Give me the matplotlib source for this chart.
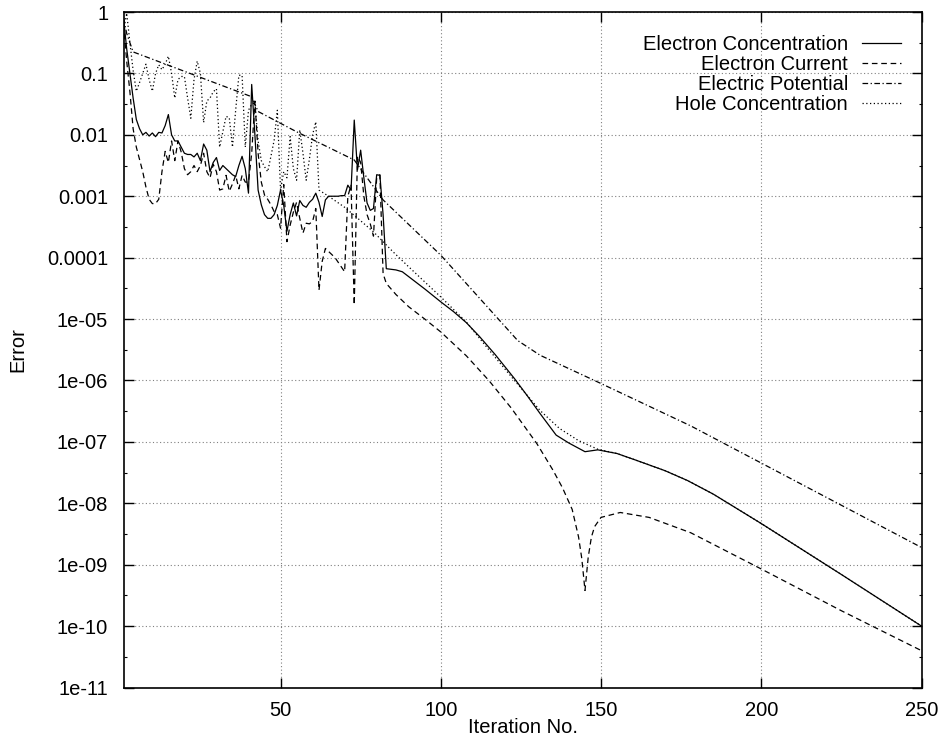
import numpy as np
import matplotlib
matplotlib.use("Agg")
import matplotlib.pyplot as plt
from matplotlib.ticker import FixedLocator, FuncFormatter, LogLocator, NullFormatter

plt.rcParams['font.family'] = ['Liberation Sans', 'DejaVu Sans']
plt.rcParams['font.size'] = 14.5

# ---- data (log10 of error) ----
conc_x = [1, 2, 3, 4, 5, 6, 7, 8, 9, 10, 11, 12, 13, 14, 15, 16, 17, 18, 19, 20,
          21, 22, 23, 24, 25, 26, 27, 28, 29, 30, 31, 32, 33, 34, 35, 36, 37, 38, 39, 40,
          41, 42, 43, 44, 45, 46, 47, 48, 49, 50, 51, 52, 53, 54, 55, 56, 57, 58, 59, 60,
          61, 62, 63, 64, 65, 66, 67, 68, 69, 70, 71, 72, 73, 74, 75, 76, 77, 78, 79, 80,
          81, 82, 83, 86, 88, 90, 95, 100, 104, 108, 112, 117, 123, 127, 131, 136, 140,
          145, 149, 155, 161, 170, 177, 185, 200, 225, 250]
conc_log = [-0.1, -0.6, -1.0, -1.4, -1.75, -1.9, -2.0, -1.96, -2.02, -1.97, -2.03, -1.96,
            -1.97, -1.85, -1.67, -2.0, -2.1, -2.1, -2.2, -2.3,
            -2.32, -2.32, -2.36, -2.3, -2.42, -2.15, -2.25, -2.6, -2.45, -2.37, -2.58, -2.5,
            -2.55, -2.6, -2.65, -2.68, -2.5, -2.35, -2.55, -2.95,
            -1.18, -2.0, -2.9, -3.14, -3.3, -3.36, -3.36, -3.3, -3.15, -2.9, -3.15, -3.57,
            -3.3, -3.11, -3.32, -3.07, -3.15, -3.18, -3.1, -3.05,
            -2.95, -3.1, -3.33, -3.06, -3.0, -3.0, -3.0, -3.0, -2.99, -2.99, -2.82, -2.9,
            -1.76, -2.57, -2.25, -2.7, -3.11, -3.23, -3.2, -2.65,
            -2.66, -3.3, -4.18, -4.2, -4.23, -4.31, -4.51, -4.72, -4.88, -5.06, -5.28,
            -5.58, -5.97, -6.25, -6.54, -6.89, -7.02,
            -7.16, -7.13, -7.19, -7.3, -7.47, -7.63, -7.85, -8.33, -9.16, -10.0]

curr_x = [1, 2, 3, 4, 5, 6, 7, 8, 9, 10, 11, 12, 13, 14, 15, 16, 17, 18, 19, 20,
          21, 22, 23, 24, 25, 26, 27, 28, 29, 30, 31, 32, 33, 34, 35, 36, 37, 38, 39, 40,
          41, 42, 43, 44, 45, 46, 47, 48, 49, 50, 51, 52, 53, 54, 55, 56, 57, 58, 59, 60,
          61, 62, 63, 64, 65, 67, 70, 71, 72, 73, 74, 75, 76, 77, 78, 79, 80, 81, 82, 83,
          86, 90, 95, 100, 108, 115, 122, 130, 135, 138, 141, 143, 144, 145, 146, 147,
          148, 150, 156, 165, 178, 200, 225, 250]
curr_log = [-0.2, -0.8, -1.3, -1.9, -2.2, -2.4, -2.6, -2.85, -3.05, -3.12, -3.12, -3.05,
            -2.6, -2.27, -2.45, -2.1, -2.42, -2.1, -2.28, -2.55,
            -2.65, -2.6, -2.5, -2.6, -2.5, -2.3, -2.6, -2.7, -2.48, -2.6, -2.9, -2.88,
            -2.66, -2.92, -2.8, -2.66, -2.88, -2.66, -2.77, -2.77,
            -2.3, -1.45, -2.3, -2.77, -2.98, -3.05, -3.14, -3.25, -3.3, -3.52, -2.81, -3.74,
            -3.47, -3.26, -3.1, -3.36, -3.6, -3.44, -3.45, -3.41,
            -3.2, -4.53, -4.06, -3.85, -3.9, -4.0, -4.23, -3.0, -2.82, -4.77, -2.35, -2.45,
            -3.0, -3.3, -3.45, -3.65, -2.7, -2.65, -4.26, -4.42,
            -4.6, -4.8, -5.0, -5.21, -5.6, -6.0, -6.45, -7.03, -7.46, -7.75, -8.1, -8.55,
            -8.9, -9.42, -8.88, -8.55,
            -8.38, -8.23, -8.15, -8.23, -8.48, -9.07, -9.75, -10.4]

pot_x = [1, 2, 4, 41, 43, 55, 73, 82, 100, 124, 131, 150, 178, 250]
pot_log = [-0.1, -0.35, -0.65, -1.38, -1.62, -1.95, -2.41, -3.06, -3.96, -5.35,
           -5.59, -6.05, -6.74, -8.72]

hole_x = [1, 2, 3, 4, 5, 6, 7, 8, 9, 10, 11, 12, 13, 14, 15, 16, 17, 18, 19, 20,
          21, 22, 23, 24, 25, 26, 27, 28, 29, 30, 31, 32, 33, 34, 35, 36, 37, 38, 39, 40,
          41, 42, 43, 44, 45, 46, 47, 48, 49, 50, 51, 52, 53, 54, 55, 56, 57, 58, 59, 60,
          61, 62, 65, 70, 75, 79, 85, 90, 100, 108, 115, 123, 131, 137, 143, 149,
          155, 161, 170, 177, 185, 200, 225, 250]
hole_log = [-0.3, -0.02, -0.5, -0.95, -1.29, -1.15, -1.0, -0.85, -1.1, -1.29, -1.0, -0.86,
            -0.94, -0.85, -0.72, -1.0, -1.4, -1.1, -1.05, -1.05,
            -1.4, -1.73, -1.1, -0.8, -1.0, -1.8, -1.45, -1.4, -1.3, -1.25, -2.2, -1.95,
            -1.7, -1.72, -2.2, -1.6, -1.03, -1.03, -2.2, -1.6,
            -1.5, -1.48, -2.1, -2.42, -2.52, -2.6, -2.35, -2.09, -1.6, -2.9, -2.6, -2.7,
            -2.03, -2.55, -2.74, -1.92, -2.3, -2.74, -2.4, -2.0,
            -1.79, -2.9, -3.0, -3.18, -3.4, -3.58, -3.9, -4.15, -4.64, -5.05, -5.5, -6.0,
            -6.49, -6.78, -6.98, -7.12,
            -7.19, -7.3, -7.47, -7.63, -7.85, -8.33, -9.16, -10.0]

labels = ["Electron Concentration", "Electron Current", "Electric Potential",
          "Hole Concentration"]
x_ticks = [50, 100, 150, 200, 250]
y_decades = list(range(-11, 1))

# ---- figure ----
fig = plt.figure(figsize=(9.43, 7.44), dpi=100)
W, H = 943, 744
L, R, T, B = 123.5, 921.5, 12, 687.5
ax = fig.add_axes([L / W, 1 - B / H, (R - L) / W, (B - T) / H])

lw = 0.9
ax.plot(conc_x, 10.0 ** np.array(conc_log), color='black', lw=lw, ls='-', label=labels[0])
ax.plot(curr_x, 10.0 ** np.array(curr_log), color='black', lw=lw, ls=(0, (4.5, 3)),
        label=labels[1])
ax.plot(pot_x, 10.0 ** np.array(pot_log), color='black', lw=lw,
        ls=(0, (4.5, 2, 1, 2)), label=labels[2])
ax.plot(hole_x, 10.0 ** np.array(hole_log), color='black', lw=lw, ls=(0, (1, 2)),
        label=labels[3])

ax.set_yscale('log')
ax.set_xlim(1, 250)
ax.set_ylim(1e-11, 1)

ax.xaxis.set_major_locator(FixedLocator(x_ticks))
ax.yaxis.set_major_locator(FixedLocator([10.0 ** d for d in y_decades]))
ax.yaxis.set_major_formatter(FuncFormatter(lambda v, p: '%g' % v))
ax.yaxis.set_minor_locator(LogLocator(base=10, subs=(3.1623,), numticks=20))
ax.yaxis.set_minor_formatter(NullFormatter())

ax.tick_params(which='major', direction='in', length=7, width=1, top=True, right=True,
               pad=10)
ax.tick_params(which='minor', direction='in', length=2.5, width=0.8, top=True, right=True)
ax.tick_params(axis='y', pad=11)

ax.grid(True, which='major', color='#808080', ls=(0, (1, 2.2)), lw=0.8)
for s in ax.spines.values():
    s.set_linewidth(1.2)

ax.set_xlabel("Iteration No.", labelpad=-2)
ax.set_ylabel("Error", labelpad=14)

leg = ax.legend(loc='upper right', bbox_to_anchor=(1.0, 0.9956), markerfirst=False,
                frameon=False, handlelength=1.95, handletextpad=0.7, labelspacing=0.05,
                borderaxespad=0.6, borderpad=0.4)

fig.savefig("out.png", dpi=100)
